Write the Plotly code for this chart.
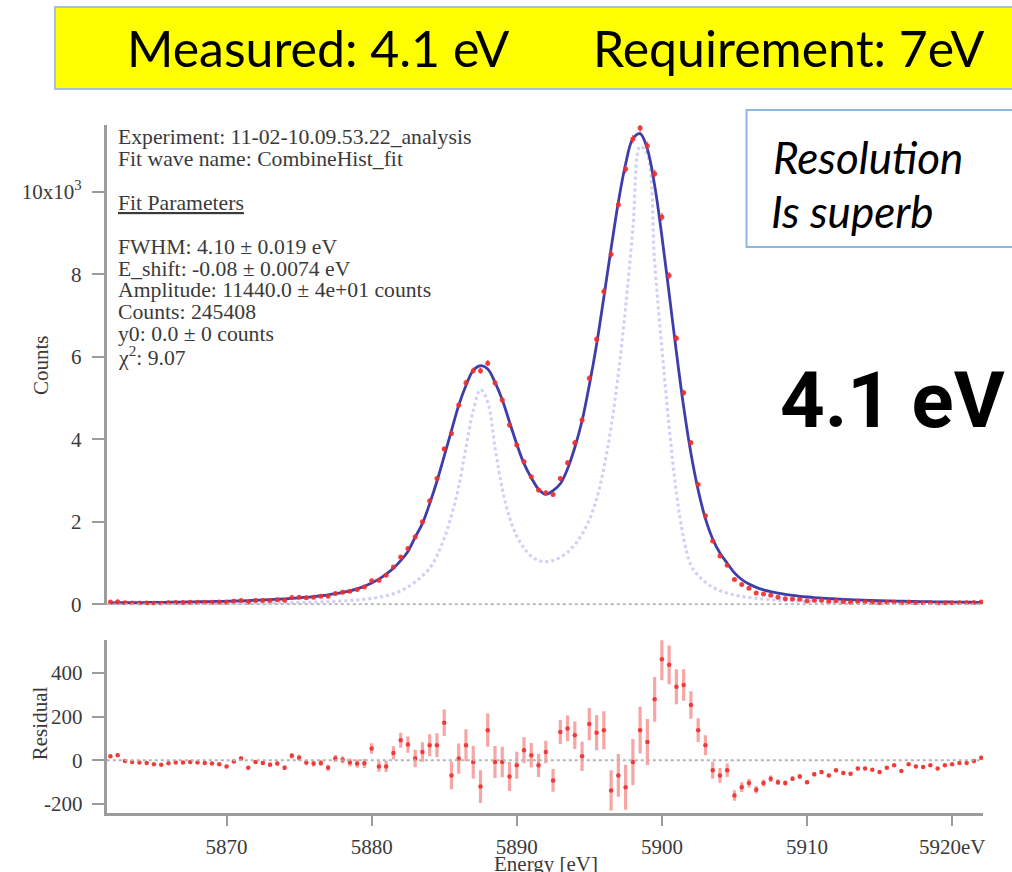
import plotly.graph_objects as go

# ---------------- data ----------------
energy = [
    5862.0, 5862.5, 5863.0, 5863.5, 5864.0, 5864.5, 5865.0, 5865.5, 5866.0, 5866.5,
    5867.0, 5867.5, 5868.0, 5868.5, 5869.0, 5869.5, 5870.0, 5870.5, 5871.0, 5871.5,
    5872.0, 5872.5, 5873.0, 5873.5, 5874.0, 5874.5, 5875.0, 5875.5, 5876.0, 5876.5,
    5877.0, 5877.5, 5878.0, 5878.5, 5879.0, 5879.5, 5880.0, 5880.5, 5881.0, 5881.5,
    5882.0, 5882.5, 5883.0, 5883.5, 5884.0, 5884.5, 5885.0, 5885.5, 5886.0, 5886.5,
    5887.0, 5887.5, 5888.0, 5888.5, 5889.0, 5889.5, 5890.0, 5890.5, 5891.0, 5891.5,
    5892.0, 5892.5, 5893.0, 5893.5, 5894.0, 5894.5, 5895.0, 5895.5, 5896.0, 5896.5,
    5897.0, 5897.5, 5898.0, 5898.5, 5899.0, 5899.5, 5900.0, 5900.5, 5901.0, 5901.5,
    5902.0, 5902.5, 5903.0, 5903.5, 5904.0, 5904.5, 5905.0, 5905.5, 5906.0, 5906.5,
    5907.0, 5907.5, 5908.0, 5908.5, 5909.0, 5909.5, 5910.0, 5910.5, 5911.0, 5911.5,
    5912.0, 5912.5, 5913.0, 5913.5, 5914.0, 5914.5, 5915.0, 5915.5, 5916.0, 5916.5,
    5917.0, 5917.5, 5918.0, 5918.5, 5919.0, 5919.5, 5920.0, 5920.5, 5921.0, 5921.5,
    5922.0,
]

fit_counts = [
    34, 35, 37, 38, 40, 42, 44, 46, 48, 51,
    53, 56, 59, 62, 66, 70, 74, 79, 84, 90,
    97, 104, 112, 121, 131, 143, 156, 170, 187, 206,
    228, 255, 287, 325, 372, 435, 515, 610, 730, 872,
    1056, 1279, 1625, 1960, 2439, 2982, 3590, 4211, 4822, 5302,
    5670, 5782, 5704, 5379, 4959, 4418, 3882, 3408, 3067, 2790,
    2663, 2754, 2921, 3284, 3800, 4448, 5312, 6298, 7442, 8625,
    9753, 10673, 11286, 11407, 11032, 10157, 8922, 7531, 6111, 4784,
    3662, 2767, 2074, 1582, 1241, 993, 761, 600, 490, 410,
    350, 305, 268, 238, 213, 193, 176, 161, 149, 138,
    128, 119, 111, 104, 98, 92, 87, 82, 78, 74,
    70, 67, 63, 60, 58, 55, 53, 51, 49, 47,
    45,
]

data_counts = [
    52, 58, 34, 30, 30, 30, 26, 26, 34, 41,
    43, 48, 49, 50, 51, 52, 46, 74, 92, 56,
    89, 92, 92, 106, 97, 164, 168, 160, 172, 194,
    194, 263, 289, 315, 357, 421, 569, 582, 702, 906,
    1148, 1351, 1633, 1998, 2508, 3051, 3762, 4142, 4830, 5371,
    5662, 5662, 5842, 5371, 4951, 4344, 3859, 3454, 3090, 2767,
    2701, 2662, 3051, 3430, 3915, 4466, 5478, 6424, 7580, 8487,
    9684, 10550, 11278, 11545, 11116, 10436, 9385, 7968, 6448, 5129,
    3915, 2905, 2143, 1536, 1172, 947, 600, 477, 386, 275,
    246, 221, 168, 134, 129, 119, 76, 97, 95, 69,
    82, 61, 50, 66, 60, 49, 33, 48, 55, 25,
    52, 39, 32, 37, 20, 32, 35, 39, 37, 44,
    57,
]

data_err = [
    7, 8, 6, 5, 5, 5, 5, 5, 6, 6,
    7, 7, 7, 7, 7, 7, 7, 9, 10, 7,
    9, 10, 10, 10, 10, 13, 13, 13, 13, 14,
    14, 16, 17, 18, 19, 21, 24, 24, 26, 30,
    34, 37, 40, 45, 50, 55, 61, 64, 69, 73,
    75, 75, 76, 73, 70, 66, 62, 59, 56, 53,
    52, 52, 55, 59, 63, 67, 74, 80, 87, 92,
    98, 103, 106, 107, 105, 102, 97, 89, 80, 72,
    63, 54, 46, 39, 34, 31, 24, 22, 20, 17,
    16, 15, 13, 12, 11, 11, 9, 10, 10, 8,
    9, 8, 7, 8, 8, 7, 6, 7, 7, 5,
    7, 6, 6, 6, 4, 6, 6, 6, 6, 7,
    8,
]

residual = [
    18, 23, -3, -8, -10, -12, -18, -20, -14, -10,
    -10, -8, -10, -12, -15, -18, -28, -5, 8, -34,
    -8, -12, -20, -15, -34, 21, 12, -10, -15, -12,
    -34, 8, 2, -10, -15, -14, 54, -28, -28, 34,
    92, 72, 8, 38, 69, 69, 172, -69, 8, 69,
    -8, -120, 138, -8, -8, -74, -23, 46, 23, -23,
    38, -92, 130, 146, 115, 18, 166, 126, 138, -138,
    -69, -123, -8, 138, 84, 279, 463, 437, 337, 345,
    253, 138, 69, -46, -69, -46, -161, -123, -104, -135,
    -104, -84, -100, -104, -84, -74, -100, -64, -54, -69,
    -46, -58, -61, -38, -38, -43, -54, -34, -23, -49,
    -18, -28, -31, -23, -38, -23, -18, -12, -12, -3,
    12,
]

natural_line = [
    10, 10, 11, 11, 12, 12, 13, 13, 14, 15,
    16, 16, 17, 18, 19, 20, 21, 23, 24, 26,
    27, 29, 31, 34, 36, 39, 42, 46, 50, 56,
    62, 69, 78, 89, 102, 119, 140, 168, 205, 255,
    325, 420, 540, 690, 870, 1180, 1600, 2150, 2850, 3800,
    4700, 5200, 4900, 3800, 2800, 2100, 1650, 1360, 1160, 1060,
    1030, 1060, 1140, 1260, 1450, 1700, 2050, 2550, 3300, 4300,
    5600, 7200, 9100, 11100, 10900, 8300, 6200, 4300, 2700, 1600,
    950, 700, 530, 410, 330, 270, 225, 192, 165, 145,
    127, 112, 100, 90, 82, 75, 68, 63, 58, 54,
    50, 47, 44, 41, 39, 37, 35, 33, 31, 30,
    28, 27, 26, 25, 24, 23, 22, 21, 20, 19,
    19,
]

count_tickvals = [0, 2000, 4000, 6000, 8000, 10000]
count_ticktext = ["0", "2", "4", "6", "8", "10x10<sup>3</sup>"]
resid_tickvals = [-200, 0, 200, 400]
resid_ticktext = ["-200", "0", "200", "400"]
energy_tickvals = [5870, 5880, 5890, 5900, 5910, 5920]
energy_ticktext = ["5870", "5880", "5890", "5900", "5910", "5920eV"]

fit_info = [
    "Experiment: 11-02-10.09.53.22_analysis",
    "Fit wave name: CombineHist_fit",
    "<u>Fit Parameters</u>",
    "FWHM: 4.10 \u00b1 0.019 eV",
    "E_shift: -0.08 \u00b1 0.0074 eV",
    "Amplitude: 11440.0 \u00b1 4e+01 counts",
    "Counts: 245408",
    "y0: 0.0 \u00b1 0 counts",
    "\u03c7<sup>2</sup>: 9.07",
]
fit_info_rows = [0, 1, 3, 5, 6, 7, 8, 9, 10]

# ---------------- layout helpers ----------------
W, H = 1012, 872
VSCALE = 0.987  # the photographed page comes out slightly squeezed vertically


def fx(p):
    return p / W


def fy(p):
    return 1 - p / (H * VSCALE)


SERIF = "Liberation Serif, Times New Roman, serif"
SANS = "Lato, Open Sans, sans-serif"
AXIS_GREY = "#9c9c9c"
TXT = "#3a3a3a"

fig = go.Figure()

fig.add_trace(go.Scatter(
    x=energy, y=natural_line, mode="lines", xaxis="x", yaxis="y",
    line=dict(color="rgba(165,165,242,0.55)", width=3, dash="dot", shape="spline"),
    hoverinfo="skip", showlegend=False))

fig.add_trace(go.Scatter(
    x=energy, y=fit_counts, mode="lines", xaxis="x", yaxis="y",
    line=dict(color="rgb(62,62,170)", width=2.8, shape="spline"),
    showlegend=False))

fig.add_trace(go.Scatter(
    x=energy, y=data_counts, mode="markers", xaxis="x", yaxis="y",
    marker=dict(color="rgba(238,45,45,0.9)", size=5, symbol="circle"),
    error_y=dict(type="data", array=data_err, color="rgba(238,60,60,0.75)",
                 thickness=1.5, width=0),
    showlegend=False))

fig.add_trace(go.Scatter(
    x=energy, y=residual, mode="markers", xaxis="x", yaxis="y2",
    marker=dict(color="rgba(238,45,45,0.9)", size=4.5, symbol="circle"),
    error_y=dict(type="data", array=data_err, color="rgba(242,105,105,0.6)",
                 thickness=3.2, width=0),
    showlegend=False))

shapes = [
    # yellow banner
    dict(type="rect", xref="paper", yref="paper", x0=fx(55), x1=fx(1030),
         y0=fy(89), y1=fy(7), fillcolor="#ffff00",
         line=dict(color="#a9bfd9", width=2), layer="below"),
    # "Resolution is superb" box
    dict(type="rect", xref="paper", yref="paper", x0=fx(748), x1=fx(1030),
         y0=fy(247), y1=fy(110), fillcolor="white",
         line=dict(color="#8fb5e6", width=2), layer="below"),
    # dotted zero lines
    dict(type="line", xref="x domain", yref="y", x0=0, x1=1, y0=0, y1=0,
         line=dict(color="#b4b4b4", width=2, dash="dot")),
    dict(type="line", xref="x domain", yref="y2", x0=0, x1=1, y0=0, y1=0,
         line=dict(color="#b4b4b4", width=2, dash="dot")),
]

annotations = [
    dict(text="Measured: 4.1 eV", x=fx(319), y=fy(48), xref="paper", yref="paper",
         showarrow=False, xanchor="center", yanchor="middle",
         font=dict(family=SANS, size=50, color="black")),
    dict(text="Requirement: 7eV", x=fx(791), y=fy(48), xref="paper", yref="paper",
         showarrow=False, xanchor="center", yanchor="middle",
         font=dict(family=SANS, size=50, color="black")),
    dict(text="<i>Resolution</i>", x=fx(773), y=fy(157), xref="paper", yref="paper",
         showarrow=False, xanchor="left", yanchor="middle",
         font=dict(family=SANS, size=44, color="black")),
    dict(text="<i>Is superb</i>", x=fx(771), y=fy(211), xref="paper", yref="paper",
         showarrow=False, xanchor="left", yanchor="middle",
         font=dict(family=SANS, size=44, color="black")),
    dict(text="<b>4.1 eV</b>", x=fx(780), y=fy(400), xref="paper", yref="paper",
         showarrow=False, xanchor="left", yanchor="middle",
         font=dict(family="Roboto, sans-serif", size=78, color="black")),
    dict(text="Counts", x=fx(41), y=fy(365), xref="paper", yref="paper",
         showarrow=False, textangle=-90, xanchor="center", yanchor="middle",
         font=dict(family=SERIF, size=21, color=TXT)),
    dict(text="Residual", x=fx(40), y=fy(723), xref="paper", yref="paper",
         showarrow=False, textangle=-90, xanchor="center", yanchor="middle",
         font=dict(family=SERIF, size=21, color=TXT)),
    dict(text="Energy [eV]", x=fx(547), y=fy(850), xref="paper", yref="paper",
         showarrow=False, xanchor="center", yanchor="top",
         font=dict(family=SERIF, size=21, color=TXT)),
]

for line, row in zip(fit_info, fit_info_rows):
    annotations.append(dict(
        text=line, x=fx(116), y=fy(137 + 21.9 * row), xref="paper", yref="paper",
        showarrow=False, xanchor="left", yanchor="middle",
        font=dict(family=SERIF, size=21.7, color=TXT)))

fig.update_layout(
    width=W, height=H,
    margin=dict(l=0, r=0, t=0, b=0),
    paper_bgcolor="white", plot_bgcolor="white",
    showlegend=False,
    xaxis=dict(
        domain=[fx(107), fx(985)], range=[5861.75, 5922.13], anchor="y2",
        showline=True, linecolor=AXIS_GREY, linewidth=3,
        ticks="outside", ticklen=10, tickwidth=2, tickcolor=AXIS_GREY,
        ticklabelstandoff=2,
        tickvals=energy_tickvals, ticktext=energy_ticktext,
        tickfont=dict(family=SERIF, size=21, color=TXT),
        showgrid=False, zeroline=False),
    yaxis=dict(
        domain=[fy(605), fy(125)], range=[-24, 11617], anchor="x",
        showline=True, linecolor=AXIS_GREY, linewidth=3,
        ticks="outside", ticklen=12, tickwidth=2, tickcolor=AXIS_GREY,
        ticklabelstandoff=6,
        tickvals=count_tickvals, ticktext=count_ticktext,
        tickfont=dict(family=SERIF, size=21, color=TXT),
        showgrid=False, zeroline=False),
    yaxis2=dict(
        domain=[fy(813), fy(640)], range=[-242.7, 549.6], anchor="x",
        showline=True, linecolor=AXIS_GREY, linewidth=3,
        ticks="outside", ticklen=12, tickwidth=2, tickcolor=AXIS_GREY,
        ticklabelstandoff=5,
        tickvals=resid_tickvals, ticktext=resid_ticktext,
        tickfont=dict(family=SERIF, size=21, color=TXT),
        showgrid=False, zeroline=False),
    shapes=shapes,
    annotations=annotations,
)

fig.write_html("out.html")
